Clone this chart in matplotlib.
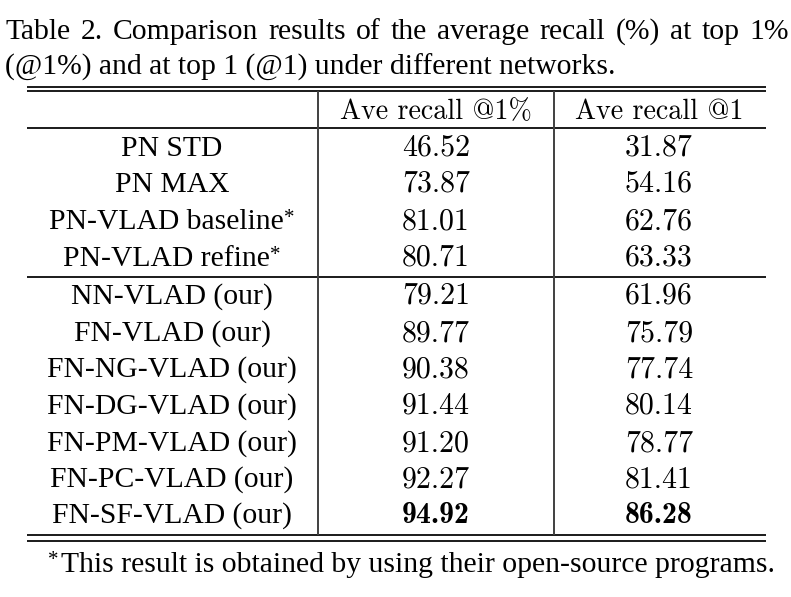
import matplotlib
matplotlib.use("Agg")
import matplotlib.pyplot as plt

plt.rcParams['font.family'] = ['Liberation Serif', 'DejaVu Serif']

# table content
caption = ["Table 2. Comparison results of the average recall (%) at top 1%",
           "(@1%) and at top 1 (@1) under different networks."]
headers = ["Ave recall @1%", "Ave recall @1"]
methods = ["PN STD", "PN MAX", "PN-VLAD baseline", "PN-VLAD refine",
           "NN-VLAD (our)", "FN-VLAD (our)", "FN-NG-VLAD (our)", "FN-DG-VLAD (our)",
           "FN-PM-VLAD (our)", "FN-PC-VLAD (our)", "FN-SF-VLAD (our)"]
starred = [False, False, True, True, False, False, False, False, False, False, False]
recall_1pct = ["46.52", "73.87", "81.01", "80.71", "79.21", "89.77",
               "90.38", "91.44", "91.20", "92.27", "94.92"]
recall_1 = ["31.87", "54.16", "62.76", "63.33", "61.96", "75.79",
            "77.74", "80.14", "78.77", "81.41", "86.28"]
best_row = 10
footnote = "This result is obtained by using their open-source programs."

W, H = 791, 597
fig = plt.figure(figsize=(W / 100, H / 100), dpi=100)
ax = fig.add_axes([0, 0, 1, 1])
ax.set_xlim(0, W)
ax.set_ylim(H, 0)
ax.axis("off")
renderer = fig.canvas.get_renderer()

def text_w(t):
    return t.get_window_extent(renderer).width

fs = 21.3
fs_num = 21.5
fs_head = 20.2
fs_star = 15
x0, x1, x2, x3 = 27, 318, 554, 766
col_centers = [172, 436, 659]
row_base = [156, 192, 229, 266, 304, 341, 377, 414, 451, 487, 523]

# caption, first line justified
words = caption[0].split(" ")
wt = [ax.text(0, 39, w, fontsize=fs, ha="left", va="baseline") for w in words]
widths = [text_w(t) for t in wt]
gap = (789 - 5 - sum(widths)) / (len(words) - 1)
xx = 5
for t, w in zip(wt, widths):
    t.set_x(xx)
    xx += w + gap
ax.text(5, 75, caption[1], fontsize=fs, ha="left", va="baseline")

# rules
lw = 1.4
for y in [87, 91, 535, 541, 128, 277]:
    ax.plot([x0, x3], [y, y], color="#1a1a1a", lw=lw, solid_capstyle="butt")
for x in [x1, x2]:
    ax.plot([x, x], [91, 535], color="#404040", lw=lw, solid_capstyle="butt")

# header
for c, h in zip(col_centers[1:], headers):
    ax.text(c, 119, h, fontsize=fs_head, family="cmr10", ha="center", va="baseline")

# body
for i, y in enumerate(row_base):
    lab = ax.text(0, y, methods[i], fontsize=fs, ha="left", va="baseline")
    w = text_w(lab)
    if starred[i]:
        st = ax.text(0, y - 6, "*", fontsize=fs_star, ha="left", va="baseline")
        ws = text_w(st)
        lab.set_x(col_centers[0] - (w + ws) / 2)
        st.set_x(col_centers[0] - (w + ws) / 2 + w)
    else:
        lab.set_x(col_centers[0] - w / 2)
    fam = "cmb10" if i == best_row else "cmr10"
    ax.text(col_centers[1], y, recall_1pct[i], fontsize=fs_num, family=fam,
            ha="center", va="baseline")
    ax.text(col_centers[2], y, recall_1[i], fontsize=fs_num, family=fam,
            ha="center", va="baseline")

# footnote
ax.text(48, 565, "*", fontsize=fs_star, ha="left", va="baseline")
ax.text(61, 572, footnote, fontsize=fs, ha="left", va="baseline")

fig.savefig("out.png", dpi=100)
